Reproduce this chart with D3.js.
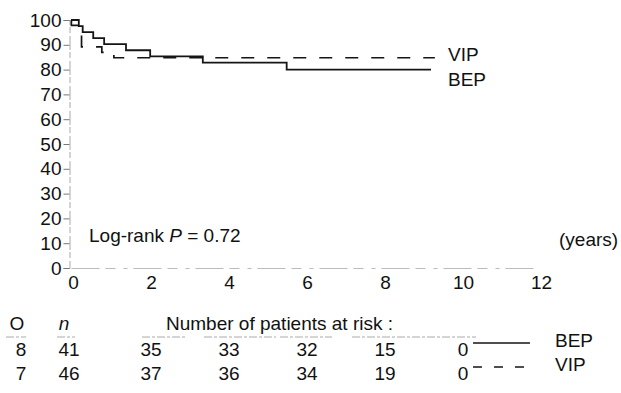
<!DOCTYPE html>
<html><head><meta charset="utf-8">
<script src="https://cdn.jsdelivr.net/npm/d3@7"></script>
<style>
html,body{margin:0;padding:0;background:#fff;}
text{font-family:"Liberation Sans",Arial,Helvetica,sans-serif;fill:#111;}
</style></head>
<body>
<script>
// ---- data ----
const xTicks = [0, 2, 4, 6, 8, 10, 12];
const yTicks = [0, 10, 20, 30, 40, 50, 60, 70, 80, 90, 100];
const bepTimes = [0, 0.20, 0.30, 0.57, 0.85, 1.41, 2.03, 3.38, 5.53, 9.23];
const bepSurv  = [100, 97.56, 95.12, 92.68, 90.24, 87.80, 85.37, 82.78, 80.0, 80.0];
const vipTimes = [0, 0.01, 0.27, 0.79, 1.10, 9.33];
const vipSurv  = [100, 97.83, 89.13, 86.96, 84.78, 84.78];
const groups = ["BEP", "VIP"];
const observed = [8, 7];
const nTotal = [41, 46];
const riskTimes = [2, 4, 6, 8, 10];
const bepRisk = [35, 33, 32, 15, 0];
const vipRisk = [37, 36, 34, 19, 0];

const W = 621, H = 393;
const svg = d3.select("body").append("svg").attr("width", W).attr("height", H);
const x = d3.scaleLinear().domain([0, 12]).range([71, 539]);
const y = d3.scaleLinear().domain([0, 100]).range([268, 20]);
const FS = 19;
const FF = '"Liberation Sans",Arial,sans-serif';

// y axis
const yAxisX = x(0) - 1.5;
const yAxis = d3.axisLeft(y).tickValues(yTicks).tickSize(6).tickPadding(2);
const gy = svg.append("g").attr("transform", `translate(${yAxisX},0)`).call(yAxis);
gy.select(".domain").attr("stroke", "#aaa").attr("stroke-width", 1).attr("stroke-dasharray", "14,3,6,2");
gy.selectAll(".tick line").attr("stroke", "#777");
gy.selectAll(".tick text").attr("font-size", FS).attr("fill", "#111").attr("font-family", FF);

// x axis
const xAxis = d3.axisBottom(x).tickValues(xTicks).tickSize(0).tickPadding(8);
const gx = svg.append("g").attr("transform", `translate(0,${y(0)})`).call(xAxis);
gx.select(".domain").attr("stroke", "#bbb").attr("stroke-width", 1).attr("stroke-dasharray", "28,6,10,8,4,6");
gx.selectAll(".tick text").attr("font-size", FS).attr("fill", "#111").attr("dx", 2).attr("font-family", FF);

// curves
const line = d3.line().x(d => x(d[0])).y(d => y(d[1])).curve(d3.curveStepAfter);
const bep = bepTimes.map((t, i) => [t, bepSurv[i]]);
const vip = vipTimes.map((t, i) => [t, vipSurv[i]]);
svg.append("path").datum(bep).attr("d", line).attr("fill", "none")
  .attr("stroke", "#151515").attr("stroke-width", 1.8);
svg.append("path").datum(vip).attr("d", line).attr("fill", "none")
  .attr("stroke", "#151515").attr("stroke-width", 1.7).attr("stroke-dasharray", "13,13");

// curve labels
svg.append("text").attr("x", 448).attr("y", y(84.78) + 3).attr("font-size", FS).text("VIP");
svg.append("text").attr("x", 448).attr("y", y(80) + 16).attr("font-size", FS).text("BEP");

// annotations
const lr = svg.append("text").attr("x", 89).attr("y", 242).attr("font-size", FS);
lr.append("tspan").text("Log-rank ");
lr.append("tspan").attr("font-style", "italic").text("P");
lr.append("tspan").text(" = 0.72");
svg.append("text").attr("x", 559).attr("y", 246).attr("font-size", FS).text("(years)");

// at-risk table
const headY = 330, rowY = [356, 380];
svg.append("text").attr("x", 17).attr("y", headY).attr("text-anchor", "middle").attr("font-size", FS).text("O");
svg.append("text").attr("x", 64).attr("y", headY).attr("text-anchor", "middle").attr("font-size", FS)
  .attr("font-style", "italic").text("n");
svg.append("text").attr("x", 166).attr("y", headY).attr("font-size", FS).text("Number of patients at risk :");

// faint rules under header
const rules = [[6, 26], [57, 75], [142, 186], [204, 276], [280, 332], [352, 476]];
svg.selectAll("line.rule").data(rules).enter().append("line")
  .attr("x1", d => d[0]).attr("x2", d => d[1])
  .attr("y1", rowY[0] - 19).attr("y2", rowY[0] - 19)
  .attr("stroke", "#aaa").attr("stroke-width", 1).attr("stroke-dasharray", "8,2,3,2");

const riskRows = [bepRisk, vipRisk];
groups.forEach((g, i) => {
  const ry = rowY[i];
  svg.append("text").attr("x", 21).attr("y", ry).attr("text-anchor", "middle").attr("font-size", FS).text(observed[i]);
  svg.append("text").attr("x", 69).attr("y", ry).attr("text-anchor", "middle").attr("font-size", FS).text(nTotal[i]);
  svg.selectAll(null).data(riskTimes).enter().append("text")
    .attr("x", d => x(d) + 2).attr("y", ry).attr("text-anchor", "middle").attr("font-size", FS)
    .text((d, j) => riskRows[i][j]);
  svg.append("line").attr("x1", 473).attr("x2", 530).attr("y1", ry - 13).attr("y2", ry - 13)
    .attr("stroke", "#151515").attr("stroke-width", i === 0 ? 1.6 : 1.4)
    .attr("stroke-dasharray", i === 0 ? null : "9,12");
  svg.append("text").attr("x", 555).attr("y", ry - 9).attr("font-size", FS).text(g);
});
</script>
</body></html>
